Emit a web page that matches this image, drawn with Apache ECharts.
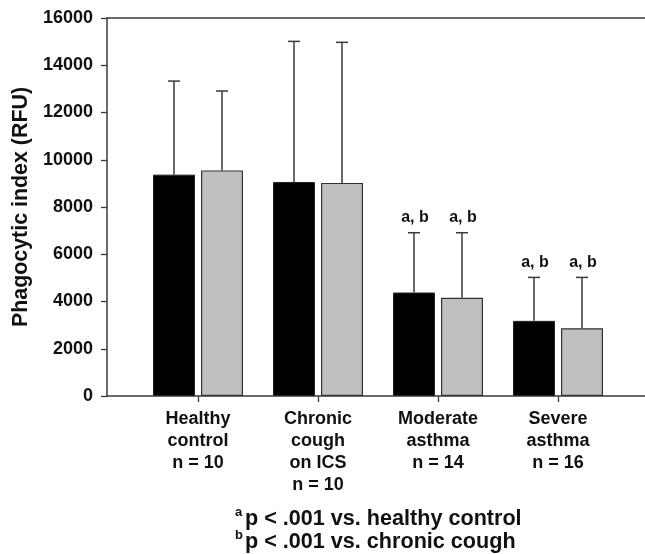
<!DOCTYPE html>
<html>
<head>
<meta charset="utf-8">
<script src="https://cdn.jsdelivr.net/npm/echarts@6/dist/echarts.min.js"></script>
<style>
  html, body { margin: 0; padding: 0; background: #fff; }
  #chart { width: 645px; height: 554px; }
</style>
</head>
<body>
<div id="chart"></div>
<script>
// groups on the x axis
const categories = [
  "Healthy\ncontrol\nn = 10",
  "Chronic\ncough\non ICS\nn = 10",
  "Moderate\nasthma\nn = 14",
  "Severe\nasthma\nn = 16"
];
// first (black) bars: mean and SD
const blackMean = [9370, 9060, 4380, 3180];
const blackSD = [3960, 5950, 2530, 1840];
// second (grey) bars: mean and SD
const greyMean = [9550, 9020, 4160, 2870];
const greySD = [3360, 5950, 2750, 2150];
// significance marks above the error bars
const sigMarks = ["", "", "a, b", "a, b"];
const yTicks = [0, 2000, 4000, 6000, 8000, 10000, 12000, 14000, 16000];

const FONT = "'Liberation Sans', Arial, sans-serif";
const AXIS = "#3a3a3a";
const BAR_W = 42;
const GAP = 6;

function errorSeries(means, sds, side) {
  return {
    type: "custom",
    xAxisIndex: 0,
    yAxisIndex: 0,
    z: 3,
    data: means.map((m, i) => [i, m, m + sds[i]]),
    renderItem: function (params, api) {
      const i = api.value(0);
      const base = api.coord([i, api.value(1)]);
      const top = api.coord([i, api.value(2)]);
      const x = base[0] + side * (BAR_W + GAP) / 2;
      const children = [
        { type: "line", shape: { x1: x, y1: base[1], x2: x, y2: top[1] },
          style: { stroke: AXIS, lineWidth: 1.5 } },
        { type: "line", shape: { x1: x - 6, y1: top[1], x2: x + 6, y2: top[1] },
          style: { stroke: AXIS, lineWidth: 1.5 } }
      ];
      if (sigMarks[i]) {
        children.push({
          type: "text",
          style: {
            text: sigMarks[i], x: x + 1, y: top[1] - 7,
            align: "center", verticalAlign: "bottom",
            font: "bold 16px " + FONT, fill: "#111"
          }
        });
      }
      return { type: "group", children: children };
    }
  };
}

const chart = echarts.init(document.getElementById("chart"));
chart.setOption({
  backgroundColor: "#fff",
  animation: false,
  textStyle: { fontFamily: FONT },
  grid: [
    { left: 138, right: 27, top: 18, bottom: 158 },
    { left: 107, right: 0, top: 18, bottom: 158 }
  ],
  xAxis: [
    {
      type: "category",
      gridIndex: 0,
      data: categories,
      axisLine: { show: false },
      axisTick: { show: true, alignWithLabel: true, length: 6, lineStyle: { color: AXIS, width: 1.3 } },
      axisLabel: {
        interval: 0, margin: 12, fontSize: 18, fontWeight: "bold",
        color: "#111", lineHeight: 22, fontFamily: FONT
      }
    },
    {
      type: "value", gridIndex: 1, min: 0, max: 1, position: "bottom",
      axisLine: { show: true, lineStyle: { color: AXIS, width: 1.5 } },
      axisTick: { show: false }, axisLabel: { show: false }, splitLine: { show: false }
    },
    {
      type: "value", gridIndex: 1, min: 0, max: 1, position: "top",
      axisLine: { show: true, lineStyle: { color: AXIS, width: 1.5 } },
      axisTick: { show: false }, axisLabel: { show: false }, splitLine: { show: false }
    }
  ],
  yAxis: [
    {
      type: "value", gridIndex: 0, min: 0, max: 16000, interval: 2000, show: false
    },
    {
      type: "value", gridIndex: 1,
      min: yTicks[0], max: yTicks[yTicks.length - 1], interval: yTicks[1] - yTicks[0],
      name: "Phagocytic index (RFU)",
      nameLocation: "middle",
      nameGap: 70,
      nameTextStyle: { fontSize: 21.4, fontWeight: "bold", color: "#111", fontFamily: FONT },
      axisLine: { show: true, lineStyle: { color: AXIS, width: 1.5 } },
      axisTick: { show: true, length: 6, lineStyle: { color: AXIS, width: 1.3 } },
      axisLabel: {
        margin: 14, fontSize: 18, fontWeight: "bold", color: "#111", fontFamily: FONT,
        formatter: v => String(v)
      },
      splitLine: { show: false }
    }
  ],
  series: [
    {
      type: "bar", xAxisIndex: 0, yAxisIndex: 0,
      data: blackMean, barWidth: BAR_W, barGap: (GAP / BAR_W * 100).toFixed(1) + "%",
      itemStyle: { color: "#000", borderColor: "#222", borderWidth: 1 }
    },
    {
      type: "bar", xAxisIndex: 0, yAxisIndex: 0,
      data: greyMean, barWidth: BAR_W,
      itemStyle: { color: "#c0c0c0", borderColor: "#333", borderWidth: 1.2 }
    },
    errorSeries(blackMean, blackSD, -1),
    errorSeries(greyMean, greySD, 1)
  ],
  graphic: [
    { type: "text", left: 235, top: 506, style: { text: "a", font: "bold 13px " + FONT, fill: "#111" } },
    { type: "text", left: 245, top: 508, style: { text: "p < .001 vs. healthy control", font: "bold 21.6px " + FONT, fill: "#111" } },
    { type: "text", left: 235, top: 529, style: { text: "b", font: "bold 13px " + FONT, fill: "#111" } },
    { type: "text", left: 245, top: 531, style: { text: "p < .001 vs. chronic cough", font: "bold 21.6px " + FONT, fill: "#111" } }
  ]
});
</script>
</body>
</html>
